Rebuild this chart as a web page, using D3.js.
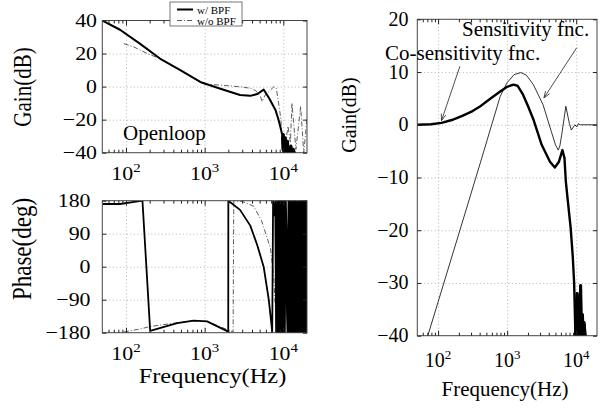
<!DOCTYPE html>
<html lang="en">
<head>
<meta charset="UTF-8">
<title>Openloop and sensitivity</title>
<script src="https://d3js.org/d3.v7.min.js"></script>
<style>
  body { margin: 0; background: #fff; }
  svg { display: block; font-family: "Liberation Serif", "DejaVu Serif", serif; }
  .grid line { stroke: #b4b4b4; stroke-dasharray: 1,2.5; }
  .grid path, .tk path { display: none; }
  .tk line { stroke: #222; }
</style>
</head>
<body>
<svg id="chart" width="615" height="409"></svg>
<script>
// ---- data ----
const freqTicks = [100, 1000, 10000];
const freqExp = ['2', '3', '4'];
const gainTicks = [40, 20, 0, -20, -40];
const phaseTicks = [180, 90, 0, -90, -180];
const sensTicks = [20, 10, 0, -10, -20, -30, -40];

// open loop gain [Hz, dB]
const olGainBPF = [[50,40],[84,34.4],[150,26],[270,17],[490,10],[880,2.8],[1585,-1.3],[2818,-5.1],[3800,-5.6],
  [4677,-4.5],[5623,-1.8],[6607,-7.1],[7943,-14.1],[8710,-20.2],[9333,-26],[9772,-30],[9900,-38],[10000,-29],
  [10150,-40],[10300,-32],[10450,-40],[10600,-31],[10750,-40],[10900,-35],[11100,-40],[11300,-33],[11500,-40],
  [11800,-37],[12100,-40],[12500,-36],[12900,-40],[13400,-38],[14000,-41]];
const olGainNoBPF = [[94,26],[126,24],[186,20],[269,17],[490,10],[977,1.5],[1585,0.9],[2818,-0.1],[3800,-1],
  [4467,-2.5],[5129,-6],[5370,-9],[5888,-5],[7586,-0.1],[8128,-1],[8710,-10],[9333,-20],[9550,-30],[10000,-40],
  [11000,-30],[11480,-24],[12300,-34],[12882,-10],[14454,-38],[16596,-12],[18197,-40],[19953,-20]];

// open loop phase [Hz, deg]
const phaseBPF = [[50,171],[84,171],[162,180],[203,-175],[447,-154],[724,-147],[1072,-149],[1995,-177],[2000,180],
  [2818,155],[3800,112],[4645,60],[5623,0],[6531,-90],[7230,-178],[7413,180],[7700,140],[7900,178],[8100,-178],
  [8318,178],[8570,-180],[8831,180],[9099,-178],[9376,180],[9661,-180],[9954,178],[10257,-180],[10568,180],
  [11482,-180],[11830,180],[12190,-180],[12560,176],[12940,-180],[13340,180],[13740,-178],[14160,180],[14590,-180],
  [15030,175],[15490,-180],[15960,180],[16440,-180],[16940,178],[17460,-180],[17990,180],[18530,-176],[19100,180],
  [19680,-180],[20000,170]];
const phaseNoBPF = [[94,-178],[150,-170],[203,-163],[447,-153],[724,-147],[1072,-149],[2300,-178],[2344,180],
  [3000,178],[4200,165],[5300,125],[6870,50],[7570,-30],[8100,-150],[8300,-180]];

// sensitivity / co-sensitivity [Hz, dB]
const coSens = [[50,0],[79,0.1],[112,0.35],[158,0.9],[224,1.7],[316,2.6],[398,3.4],[562,4.9],[794,6.3],[1000,7.2],
  [1230,7.6],[1413,7.4],[1698,5.7],[1995,3.6],[2399,1.0],[3162,-3.8],[4169,-7.0],[4898,-8.1],[5623,-7.0],[6310,-4.8],
  [6761,-6.3],[7079,-10.8],[7586,-14.6],[8318,-19.6],[8913,-25],[9333,-30],[9661,-38],[9772,-40],[9900,-34],
  [10000,-40],[10300,-32],[10500,-40],[10800,-33],[11000,-40],[11300,-34],[11600,-30.5],[11900,-40],[12300,-36],
  [12700,-40],[13000,-37.5],[13500,-40],[13800,-42]];
const sens = [[50,-46.5],[71,-40],[207,-20],[407,-7.3],[794,5.4],[1000,8.0],[1259,9.5],[1580,9.9],[1900,9.4],
  [2399,7.6],[3311,3.8],[4365,-1.3],[5012,-3.8],[5495,-4.8],[5800,-4],[6166,-1.9],[7079,3.5],[7943,0.3],[8511,-1.0],
  [9550,0],[10200,-0.4],[10700,0.2],[11500,0],[20000,0]];

const svg = d3.select('#chart');
const minorFreqs = [];
[10, 100, 1000, 10000].forEach(d => d3.range(2, 10).forEach(k => {
  const f = k * d;
  if (f > 50 && f < 20000 && !freqTicks.includes(f)) minorFreqs.push(f);
}));

function txt(str, x, y, size, sx, anchor, rot) {
  const t = svg.append('text')
    .attr('transform', `translate(${x},${y}) scale(${sx},1)` + (rot ? ` rotate(${rot})` : ''))
    .attr('font-size', size).attr('text-anchor', anchor || 'start').attr('fill', '#000');
  t.text(str);
  return t;
}

function panel(id, box, yDomain, yTicks) {
  const x = d3.scaleLog().domain([50, 20000]).range([box.x0, box.x1]);
  const y = d3.scaleLinear().domain(yDomain).range([box.y1, box.y0]);
  const w = box.x1 - box.x0, h = box.y1 - box.y0;
  svg.append('g').attr('class', 'grid').attr('transform', `translate(0,${box.y1})`)
    .call(d3.axisBottom(x).tickValues(freqTicks).tickSize(-h).tickFormat(''));
  svg.append('g').attr('class', 'grid').attr('transform', `translate(${box.x0},0)`)
    .call(d3.axisLeft(y).tickValues(yTicks.slice(1, -1)).tickSize(-w).tickFormat(''));
  svg.append('clipPath').attr('id', id).append('rect')
    .attr('x', box.x0).attr('y', box.y0).attr('width', w).attr('height', h);
  const plot = svg.append('g').attr('clip-path', `url(#${id})`);
  return { x, y, box, plot, w, h };
}

function frame(p, yTicks, opt) {
  const { x, y, box } = p;
  svg.append('rect').attr('x', box.x0).attr('y', box.y0).attr('width', p.w).attr('height', p.h)
    .attr('fill', 'none').attr('stroke', '#444').attr('stroke-width', 1);
  const tk = (axis, tr) => svg.append('g').attr('class', 'tk').attr('transform', tr).call(axis);
  tk(d3.axisBottom(x).tickValues(freqTicks).tickSize(-5).tickFormat(''), `translate(0,${box.y1})`);
  tk(d3.axisTop(x).tickValues(freqTicks).tickSize(-5).tickFormat(''), `translate(0,${box.y0})`);
  tk(d3.axisBottom(x).tickValues(minorFreqs).tickSize(-3).tickFormat(''), `translate(0,${box.y1})`);
  tk(d3.axisTop(x).tickValues(minorFreqs).tickSize(-3).tickFormat(''), `translate(0,${box.y0})`);
  tk(d3.axisLeft(y).tickValues(yTicks).tickSize(-4).tickFormat(''), `translate(${box.x0},0)`);
  tk(d3.axisRight(y).tickValues(yTicks).tickSize(-4).tickFormat(''), `translate(${box.x1},0)`);
  yTicks.forEach(v => txt(v < 0 ? '\u2212' + Math.abs(v) : String(v), opt.yLabX, y(v) + 6.5, opt.tickSize, opt.sx, 'end'));
  freqTicks.forEach((f, i) => {
    const t = txt('', x(f), opt.xLabY, opt.tickSize, opt.sx, 'middle');
    t.append('tspan').text('10');
    t.append('tspan').attr('dy', -8).attr('font-size', 13).text(freqExp[i]);
  });
}

const line = (p) => d3.line().x(d => p.x(d[0])).y(d => p.y(d[1]));
function curve(p, data, width, dash, color) {
  const path = p.plot.append('path').datum(data).attr('d', line(p)).attr('fill', 'none')
    .attr('stroke', color || '#000').attr('stroke-width', width).attr('stroke-linejoin', 'round');
  if (dash) path.attr('stroke-dasharray', dash);
  return path;
}

// ---- top-left: open loop gain ----
const pg = panel('clipG', { x0: 102.3, x1: 307, y0: 20.5, y1: 152.7 }, [-40, 40], gainTicks);
curve(pg, olGainNoBPF, 0.8, '5,2,1,2', '#333');
curve(pg, olGainBPF, 2);
curve(pg, olGainBPF.filter(d => d[0] >= 9772), 3);   // dense ripple region
frame(pg, gainTicks, { yLabX: 97, xLabY: 179.5, tickSize: 19, sx: 1.15 });
txt('Openloop', 123, 140, 21, 1.0);

// ---- bottom-left: open loop phase ----
const pp = panel('clipP', { x0: 102.3, x1: 307, y0: 200.7, y1: 332.7 }, [-180, 180], phaseTicks);
curve(pp, phaseNoBPF, 0.8, '5,2,1,2', '#333');
curve(pp, phaseBPF, 1.8);
curve(pp, phaseBPF.filter(d => d[0] >= 8318), 3);   // phase wrapping mass
frame(pp, phaseTicks, { yLabX: 90.5, xLabY: 360, tickSize: 19, sx: 1.15 });

// ---- right: sensitivity ----
const ps = panel('clipS', { x0: 417.3, x1: 597, y0: 19.3, y1: 335.7 }, [-40, 20], sensTicks);
curve(ps, sens, 0.8);
curve(ps, coSens, 2.4);
curve(ps, coSens.filter(d => d[0] >= 9772), 3);
frame(ps, sensTicks, { yLabX: 408.5, xLabY: 366.5, tickSize: 20, sx: 1.0 });

// axis titles
txt('Gain(dB)', 31, 87, 21, 1.18, 'middle', -90);
txt('Phase(deg)', 31, 249, 23, 1.15, 'middle', -90);
txt('Frequency(Hz)', 212.5, 382.5, 20, 1.22, 'middle');
txt('Gain(dB)', 356, 115, 20, 1.0, 'middle', -90);
txt('Frequency(Hz)', 505, 396, 20, 1.05, 'middle');

// annotations
txt('Sensitivity fnc.', 462, 35.5, 21, 1.0);
txt('Co-sensitivity fnc.', 385, 60, 21, 1.0);
function arrow(p, from, to) {
  const x1 = p.x(from[0]), y1 = p.y(from[1]), x2 = p.x(to[0]), y2 = p.y(to[1]);
  const a = Math.atan2(y1 - y2, x1 - x2), L = 7;
  const g = svg.append('g').attr('stroke', '#222').attr('stroke-width', 0.8).attr('fill', 'none');
  g.append('line').attr('x1', x1).attr('y1', y1).attr('x2', x2).attr('y2', y2);
  [-0.35, 0.35].forEach(da => g.append('line').attr('x1', x2).attr('y1', y2)
    .attr('x2', x2 + L * Math.cos(a + da)).attr('y2', y2 + L * Math.sin(a + da)));
}
arrow(ps, [207, 11.1], [112, 0.8]);
arrow(ps, [10160, 14.6], [3412, 5.1]);

// legend
const lg = svg.append('g');
lg.append('rect').attr('x', 170).attr('y', 2).attr('width', 72).attr('height', 24)
  .attr('fill', '#fff').attr('stroke', '#555').attr('stroke-width', 0.8);
lg.append('line').attr('x1', 177).attr('x2', 193).attr('y1', 9.5).attr('y2', 9.5)
  .attr('stroke', '#000').attr('stroke-width', 2);
lg.append('line').attr('x1', 177).attr('x2', 193).attr('y1', 20.5).attr('y2', 20.5)
  .attr('stroke', '#333').attr('stroke-width', 0.8).attr('stroke-dasharray', '5,2,1,2');
txt('w/ BPF', 197, 13.5, 10, 1.1);
txt('w/o BPF', 197, 24.5, 10, 1.1);
</script>
</body>
</html>
